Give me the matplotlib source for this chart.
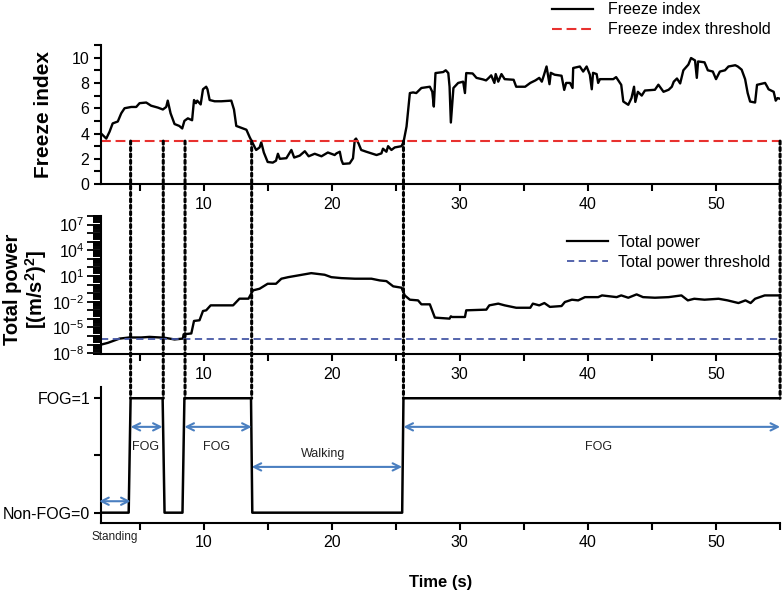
import numpy as np
import matplotlib
matplotlib.use("Agg")
import matplotlib.pyplot as plt
from matplotlib.ticker import MultipleLocator, FixedLocator, FuncFormatter, NullFormatter
from matplotlib.lines import Line2D
from matplotlib.patches import ConnectionPatch

plt.rcParams['font.family'] = ['Liberation Sans', 'DejaVu Sans']
plt.rcParams['mathtext.fontset'] = 'custom'
plt.rcParams['mathtext.rm'] = 'Liberation Sans'
plt.rcParams['mathtext.it'] = 'Liberation Sans:italic'
plt.rcParams['mathtext.bf'] = 'Liberation Sans:bold'
plt.rcParams['mathtext.default'] = 'regular'

# %% data
# freeze index (time in s, value)
fi_t = [2.0, 2.4, 2.66, 2.9, 3.3, 3.57, 3.83, 4.35, 4.74, 5.0, 5.52, 5.9, 6.43, 6.82,
        7.08, 7.2, 7.42, 7.73, 8.1, 8.33, 8.5, 8.77, 9.1, 9.25, 9.4, 9.5, 9.77, 9.95,
        10.2, 10.3, 10.47, 10.86, 11.38, 12.16, 12.37, 12.55, 12.95, 13.34, 13.6, 13.85,
        14.1, 14.37, 14.5, 14.7, 15.0, 15.4, 15.65, 15.8, 15.95, 16.46, 16.85, 17.07,
        17.5, 17.9, 18.2, 18.67, 19.2, 19.7, 20.23, 20.37, 20.63, 20.76, 20.88, 21.4,
        21.66, 21.8, 21.9, 22.1, 22.3, 22.7, 23.1, 23.5, 23.88, 24.0, 24.27, 24.4, 24.66,
        24.92, 25.45, 25.6, 25.84, 26.1, 26.35, 26.6, 27.0, 27.66, 27.85, 27.97, 28.1,
        28.7, 28.9, 29.1, 29.2, 29.3, 29.5, 29.87, 30.26, 30.4, 30.5, 31.0, 31.3, 31.8,
        32.05, 32.26, 32.45, 32.7, 32.8, 33.0, 33.25, 33.5, 34.2, 34.4, 35.1, 35.5, 35.9,
        36.2, 36.4, 36.56, 36.77, 37.0, 37.1, 37.4, 37.94, 38.15, 38.3, 38.6, 38.8, 38.85,
        39.37, 39.63, 39.9, 40.15, 40.3, 40.4, 40.68, 40.8, 40.94, 41.98, 42.2, 42.6,
        42.76, 43.15, 43.4, 43.6, 43.7, 43.9, 44.2, 44.45, 45.23, 45.5, 45.9, 46.3, 46.55,
        46.7, 46.95, 47.2, 47.45, 47.84, 48.05, 48.36, 48.5, 48.6, 49.1, 49.36, 49.75,
        50.0, 50.3, 50.7, 50.97, 51.5, 51.7, 52.0, 52.27, 52.47, 52.66, 53.05, 53.2,
        53.83, 54.0, 54.1, 54.5, 54.66, 54.8, 55.0]
fi_v = [4.0, 3.6, 4.15, 4.8, 4.95, 5.6, 6.0, 6.1, 6.1, 6.4, 6.45, 6.2, 6.05, 5.9,
        6.1, 6.6, 5.6, 4.75, 4.6, 4.4, 5.0, 5.2, 5.05, 6.65, 6.4, 6.6, 6.3, 7.5,
        7.7, 7.5, 6.65, 6.55, 6.55, 6.6, 5.9, 4.6, 4.45, 4.3, 3.7, 3.2,
        2.7, 2.9, 3.3, 2.5, 1.75, 1.7, 1.85, 2.4, 2.0, 2.05, 2.7, 2.1,
        2.25, 2.6, 2.2, 2.4, 2.2, 2.5, 2.3, 2.43, 2.56, 1.9, 1.6, 1.64,
        2.04, 3.5, 3.6, 3.2, 2.7, 2.56, 2.43, 2.3, 2.43, 2.8, 2.56, 3.0, 2.7,
        2.9, 3.0, 3.3, 4.55, 7.2, 7.25, 7.2, 7.6, 7.7, 7.3, 6.13, 8.78,
        8.86, 9.0, 8.78, 7.7, 4.87, 7.6, 8.0, 8.1, 7.2, 8.78, 8.75, 8.4, 8.28,
        8.2, 8.4, 8.6, 8.0, 8.7, 8.1, 8.7, 8.3, 8.25, 7.7, 7.7, 8.0, 8.2,
        8.4, 8.1, 8.6, 9.3, 7.9, 8.8, 8.65, 8.57, 7.45, 8.0, 8.0, 7.6, 9.18,
        9.3, 8.9, 9.3, 8.65, 7.5, 8.8, 8.7, 8.0, 8.3, 8.3, 8.46, 7.85,
        6.53, 6.27, 6.8, 7.7, 6.5, 7.3, 7.0, 7.4, 7.46, 7.86, 7.3, 7.46, 7.7,
        8.1, 8.35, 7.96, 9.0, 9.45, 9.97, 9.78, 8.4, 9.7, 9.63, 9.0, 8.9,
        8.3, 8.9, 9.0, 9.3, 9.4, 9.3, 9.05, 8.3, 7.2, 6.53, 6.45, 7.85,
        8.0, 7.7, 7.5, 7.3, 6.6, 6.8, 6.75]
fi_threshold = 3.4

# total power, stored as log10 of (m/s^2)^2
tp_t = [2.0, 2.52, 3.44, 4.2, 5.13, 5.78, 6.95, 7.73, 8.38, 8.44, 9.04, 9.25, 9.68, 9.95,
        10.2, 10.55, 12.3, 12.8, 13.5, 13.86, 14.37, 15.0, 15.65, 16.07, 16.6, 17.37,
        18.4, 19.45, 19.97, 20.75, 21.8, 23.1, 23.75, 24.27, 24.8, 25.45, 25.7, 26.1,
        26.74, 27.0, 27.66, 28.05, 29.2, 29.3, 29.4, 30.4, 30.5, 32.07, 32.3, 33.0, 33.5,
        34.4, 35.5, 35.7, 36.2, 36.6, 37.03, 37.94, 38.2, 38.75, 39.24, 39.77, 40.3, 40.8,
        41.1, 42.24, 42.6, 43.15, 43.8, 44.3, 45.23, 46.3, 47.3, 47.8, 48.3, 49.1, 50.2,
        50.9, 51.75, 52.3, 52.7, 53.05, 53.8, 55.0]
tp_log10 = [-7.0, -6.8, -6.3, -6.17, -6.17, -6.1, -6.2, -6.4, -6.3, -5.8, -5.7, -4.24, -4.16,
            -3.08, -3.0, -2.42, -2.42, -1.64, -1.64, -0.67, -0.48, 0.1, 0.1, 0.69, 0.87, 1.07,
            1.34, 1.15, 0.87, 0.76, 0.69, 0.69, 0.49, 0.41, -0.2, -0.36, -1.26, -1.76,
            -1.84, -2.3, -2.3, -3.85, -3.97, -3.7, -3.78, -3.78, -3.0, -2.92, -2.42, -2.22,
            -2.42, -2.7, -2.7, -2.22, -2.42, -2.15, -2.6, -2.5, -2.03, -1.76, -1.84, -1.46,
            -1.46, -1.46, -1.26, -1.46, -1.26, -1.53, -1.14, -1.46, -1.53, -1.46, -1.26,
            -1.84, -1.65, -1.76, -1.65, -1.84, -2.15, -1.84, -2.15, -1.65, -1.26, -1.26]
tp_threshold_log10 = -6.3

# FOG / non-FOG state
fog_t = [2.0, 4.15, 4.3, 6.8, 6.95, 8.35, 8.5, 13.7, 13.8, 25.5, 25.6, 55.0]
fog_v = [0, 0, 1, 1, 0, 0, 1, 1, 0, 0, 1, 1]

# segment boundaries (dotted lines) and labelled arrows
boundaries = [4.3, 6.85, 8.55, 13.75, 25.6, 55.0]
arrow_spans = [(1.85, 4.3, 0.1), (4.3, 6.8, 0.75), (8.5, 13.75, 0.75),
               (13.75, 25.5, 0.4), (25.6, 55.0, 0.75)]
seg_labels = ['FOG', 'FOG', 'Walking', 'FOG']
seg_label_pos = [(5.5, 0.57), (11.0, 0.57), (19.3, 0.51), (40.8, 0.57)]

RED = '#e8312f'
NAVY = '#4658a6'
ARROW = '#4a7fc0'

fig = plt.figure(figsize=(7.84, 5.92), dpi=100)
ax1 = fig.add_axes([0.129, 0.689, 0.866, 0.235])
ax2 = fig.add_axes([0.129, 0.402, 0.866, 0.233])
ax3 = fig.add_axes([0.129, 0.1166, 0.866, 0.23])

for ax in (ax1, ax2, ax3):
    for s in ('top', 'right'):
        ax.spines[s].set_visible(False)
    for s in ('left', 'bottom'):
        ax.spines[s].set_linewidth(1.5)
    ax.set_xlim(2, 55)
    ax.xaxis.set_major_locator(MultipleLocator(10))
    ax.xaxis.set_minor_locator(MultipleLocator(5))
    ax.tick_params(axis='x', which='both', direction='out', length=5, width=1.5,
                   labelsize=11.5, pad=4, colors='black')
    ax.tick_params(axis='y', which='both', direction='out', length=5, width=1.5,
                   labelsize=11.5)

# %% panel 1 - freeze index
ax1.plot(fi_t, fi_v, color='black', lw=1.7)
ax1.axhline(fi_threshold, color=RED, lw=1.5, dashes=(4.7, 2.3))
ax1.set_ylim(0, 11)
ax1.yaxis.set_major_locator(MultipleLocator(2))
ax1.yaxis.set_minor_locator(MultipleLocator(1))
ax1.set_ylabel('Freeze index', fontsize=15, fontweight='bold')
ax1.yaxis.set_label_coords(-0.071, 0.5)
h1 = [Line2D([], [], color='black', lw=1.6),
      Line2D([], [], color=RED, lw=1.5, dashes=(4.7, 2.3))]
ax1.legend(h1, ['Freeze index', 'Freeze index threshold'], loc='lower right',
           bbox_to_anchor=(0.995, 1.01), frameon=False, fontsize=11.5,
           handlelength=2.6, handletextpad=0.9, labelspacing=0.3, borderaxespad=0)

# %% panel 2 - total power
ax2.set_yscale('log')
ax2.plot(tp_t, 10.0 ** np.array(tp_log10), color='black', lw=1.7)
ax2.axhline(10.0 ** tp_threshold_log10, color=NAVY, lw=1.3, dashes=(4, 2.5))
ax2.set_ylim(10 ** -8.1, 10 ** 8)
ax2.yaxis.set_major_locator(FixedLocator(10.0 ** np.arange(-8, 9)))
ax2.yaxis.set_major_formatter(FuncFormatter(
    lambda v, p: ('10$^{%d}$' % round(np.log10(v))) if round(np.log10(v)) in (-8, -5, -2, 1, 4, 7) else ''))
minor = [m * 10.0 ** e for e in range(-9, 9) for m in range(2, 10)]
ax2.yaxis.set_minor_locator(FixedLocator(minor))
ax2.yaxis.set_minor_formatter(NullFormatter())
ax2.tick_params(axis='y', which='major', length=10, width=1.3, labelsize=11.5, pad=2)
ax2.tick_params(axis='y', which='minor', length=6, width=1.4)
ax2.set_ylabel('Total power\n[(m/s$^{2}$)$^{2}$]', fontsize=14.5, fontweight='bold',
               linespacing=1.05)
ax2.yaxis.set_label_coords(-0.077, 0.47)
h2 = [Line2D([], [], color='black', lw=1.6),
      Line2D([], [], color=NAVY, lw=1.3, dashes=(4, 2.5))]
ax2.legend(h2, ['Total power', 'Total power threshold'], loc='upper right',
           bbox_to_anchor=(0.995, 0.91), frameon=False, fontsize=11.5,
           handlelength=2.6, handletextpad=0.6, labelspacing=0.3, borderaxespad=0)

# %% panel 3 - FOG state
ax3.plot(fog_t, fog_v, color='black', lw=1.8)
ax3.set_ylim(-0.09, 1.1)
ax3.set_yticks([0, 0.5, 1])
ax3.set_yticklabels(['Non-FOG=0', '', 'FOG=1'], fontsize=11.5)
ax3.tick_params(axis='y', pad=3)
for x0, x1, y in arrow_spans:
    ax3.annotate('', xy=(x1, y), xytext=(x0, y), annotation_clip=False,
                 arrowprops=dict(arrowstyle='<->', color=ARROW, lw=1.5,
                                 shrinkA=0, shrinkB=0, mutation_scale=13))
for lab, (x, y) in zip(seg_labels, seg_label_pos):
    ax3.text(x, y, lab, fontsize=9, ha='center', va='center', color='#222222')
ax3.text(3.05, -0.21, 'Standing', fontsize=8.5, ha='center', va='center',
         color='#222222', clip_on=False)
ax3.set_xlabel('Time (s)', fontsize=12, fontweight='bold', labelpad=18)

# dotted lines linking the threshold crossings to the FOG trace
for x in boundaries:
    con = ConnectionPatch(xyA=(x, fi_threshold), coordsA=ax1.transData,
                          xyB=(x, 1), coordsB=ax3.transData,
                          color='black', lw=2.2, linestyle=(0, (1, 1.1)))
    fig.add_artist(con)

fig.savefig('out.png', dpi=100)
